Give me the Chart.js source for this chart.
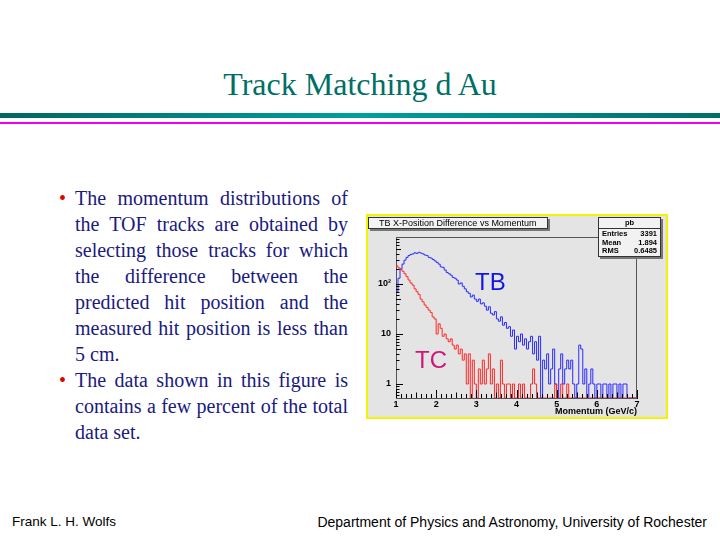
<!DOCTYPE html>
<html>
<head>
<meta charset="utf-8">
<title>Track Matching d Au</title>
<script src="https://cdn.jsdelivr.net/npm/chart.js@4.4.1/dist/chart.umd.min.js"></script>
<style>
  html, body { margin: 0; padding: 0; background: #fff; }
  body { width: 720px; height: 540px; position: relative; overflow: hidden; }
  .title { position: absolute; left: 0; top: 66px; width: 720px; text-align: center;
           font: 32px/36px "Liberation Serif", "Times New Roman", serif; color: #006f66; }
  .rule1 { position: absolute; left: 0; top: 113px; width: 720px; height: 5px;
           background: linear-gradient(to right, #006660, #00a09c 50%, #006e68); }
  .rule2 { position: absolute; left: 0; top: 122px; width: 720px; height: 2px; background: #f000f0; }
  .bullets { position: absolute; left: 75px; top: 185px; width: 273px;
             font: 20px/26px "Liberation Serif", "Times New Roman", serif; color: #1a1a80; }
  .bullets .l { text-align: justify; text-align-last: justify; }
  .bullets .e { text-align: left; text-align-last: left; }
  .bullets .b { position: absolute; left: -16px; color: #e00000; }
  .foot { position: absolute; top: 514px; font: 13.5px/16px "Liberation Sans", Arial, sans-serif; color: #000; }
  #pad { position: absolute; left: 366px; top: 214px; width: 298px; height: 201px;
         border: 2px solid #f4f400; background: #e4e4e4; }
  #pad canvas { position: absolute; left: 0; top: 0; }
  .htitle { position: absolute; left: 0; top: 1px; width: 180px; height: 12px; box-sizing: border-box;
            border: 1px solid #333; background: #f2f2f2; box-shadow: 2px 2px 0 #777; white-space: nowrap;
            font: 9px/10px "Liberation Sans", Arial, sans-serif; color: #000; padding-left: 10px; }
  .stats { position: absolute; left: 230px; top: 1px; width: 63px; height: 40px; box-sizing: border-box;
           border: 1px solid #333; background: #f2f2f2; box-shadow: 2px 2px 0 #777;
           font: bold 7.5px/8px "Liberation Sans", Arial, sans-serif; color: #000; }
  .stats .h { text-align: center; border-bottom: 1px solid #333; height: 10px; line-height: 10px; }
  .stats .r { display: flex; justify-content: space-between; padding: 0 3px 0 3px; height: 8.5px; line-height: 9px; }
  .lbl { position: absolute; font: 24px/24px "Liberation Sans", Arial, sans-serif; }
</style>
</head>
<body>
<div class="title">Track Matching d Au</div>
<div class="rule1"></div>
<div class="rule2"></div>

<div class="bullets">
  <div class="l"><span class="b">•</span>The momentum distributions of</div>
  <div class="l">the TOF tracks are obtained by</div>
  <div class="l">selecting those tracks for which</div>
  <div class="l">the difference between the</div>
  <div class="l">predicted hit position and the</div>
  <div class="l">measured hit position is less than</div>
  <div class="e">5 cm.</div>
  <div class="l"><span class="b">•</span>The data shown in this figure is</div>
  <div class="l">contains a few percent of the total</div>
  <div class="e">data set.</div>
</div>

<div id="pad">
  <canvas id="chartHisto" width="298" height="201"></canvas>
  <div class="htitle">TB X-Position Difference vs Momentum</div>
  <div class="stats" id="stats"></div>
  <div class="lbl" style="left:107px; top:54px; color:#1414e6;">TB</div>
  <div class="lbl" style="left:47px; top:132px; color:#d0157a;">TC</div>
</div>

<div class="foot" style="left:12px;">Frank L. H. Wolfs</div>
<div class="foot" style="right:13px; font-size:14px;">Department of Physics and Astronomy, University of Rochester</div>

<script>
// histogram bins: 0.05 GeV/c wide, starting at 1.0 GeV/c
const binStart = 1.0;
const binWidth = 0.05;

// TB counts per bin (1.00 ... 6.95)
const tbCounts = [
  70, 130, 200, 250, 300, 340, 370, 390, 400, 420,
  410, 430, 415, 400, 380, 370, 340, 330, 310, 290,
  270, 250, 220, 215, 190, 170, 160, 150, 135, 130,
  120, 100, 105, 90, 80, 70, 65, 55, 60, 50,
  45, 50, 40, 42, 36, 30, 35, 26, 24, 28,
  20, 18, 22, 15, 17, 13, 14, 9, 12, 5,
  9, 7, 10, 6, 8, 5, 7, 9, 4, 7,
  3, 9, 0, 3, 2, 4, 1, 2, 5, 1,
  0, 2, 4, 1, 2, 3, 2, 3, 1, 0,
  1, 6, 5, 1, 2, 0, 1, 2, 1, 0,
  1, 1, 0, 1, 1, 0, 1, 0, 1, 1,
  0, 1, 0, 1, 1, 0, 0, 0, 0, 0
];

// TC counts per bin (1.00 ... 6.95)
const tcCounts = [
  230, 210, 195, 180, 160, 140, 120, 105, 95, 80,
  70, 62, 50, 44, 38, 34, 30, 27, 22, 20,
  10, 16, 13, 9, 10, 8, 7, 8, 6, 5,
  6, 4, 5, 3, 4, 1, 4, 0, 3, 1,
  0, 2, 1, 3, 1, 2, 4, 1, 2, 0,
  1, 0, 3, 1, 0, 1, 1, 0, 1, 0,
  0, 1, 0, 1, 0, 0, 0, 1, 2, 1,
  0, 0, 0, 0, 0, 0, 0, 0, 0, 1,
  0, 0, 1, 0, 0, 1, 0, 0, 0, 0,
  0, 0, 0, 0, 0, 0, 0, 0, 0, 0,
  0, 0, 0, 0, 0, 0, 0, 0, 0, 0,
  0, 0, 0, 0, 0, 0, 0, 0, 0, 0
];

const xTickValues = [1, 2, 3, 4, 5, 6, 7];
const yTickValues = [1, 10, 100];
const yTickLabels = ['1', '10', '10²'];
const yMin = 0.525;
const yMax = 870;

const statsName = 'pb';
const statsLabels = ['Entries', 'Mean', 'RMS'];
const statsValues = ['3391', '1.894', '0.6485'];

// stats box
const statsDiv = document.getElementById('stats');
statsDiv.innerHTML = `<div class="h">${statsName}</div>` +
  statsLabels.map((l, i) => `<div class="r"><span>${l}</span><span>${statsValues[i]}</span></div>`).join('');

// bin left edges + closing edge, for a stepped line.
// empty bins sit on the axis floor (log scale can't show 0)
function toSteps(counts) {
  const pts = counts.map((c, i) => ({ x: +(binStart + i * binWidth).toFixed(3), y: c > 0 ? c : yMin }));
  pts.push({ x: +(binStart + counts.length * binWidth).toFixed(3), y: yMin });
  return pts;
}

const axisFont = { family: '"Liberation Sans", Arial, sans-serif', size: 9, weight: 'bold' };

// ROOT style frame + inside ticks
const rootFrame = {
  id: 'rootFrame',
  beforeDatasetsDraw(chart) {
    const { ctx, chartArea: a } = chart;
    ctx.save();
    ctx.strokeStyle = '#555';
    ctx.lineWidth = 1;
    ctx.strokeRect(a.left + 0.5, a.top + 0.5, a.right - a.left - 1, a.bottom - a.top);
    ctx.restore();
  },
  afterDatasetsDraw(chart) {
    const { ctx, chartArea: a, scales: { x, y } } = chart;
    ctx.save();
    ctx.strokeStyle = '#000';
    ctx.lineWidth = 1;
    ctx.beginPath();
    for (let d = 0.1; d <= 1000; d *= 10) {
      for (let m = 1; m < 10; m++) {
        const v = m * d;
        if (v < y.min || v > y.max) continue;
        const py = Math.round(y.getPixelForValue(v)) + 0.5;
        const len = m === 1 ? 7 : (m === 5 ? 5 : 3.5);
        ctx.moveTo(a.left, py);
        ctx.lineTo(a.left + len, py);
      }
    }
    for (let i = 0; i <= 48; i++) {
      const t = 1 + i * 0.125;
      const px = Math.round(x.getPixelForValue(t)) + 0.5;
      const len = i % 8 === 0 ? 8 : (i % 4 === 0 ? 5.5 : 4);
      ctx.moveTo(px, a.bottom);
      ctx.lineTo(px, a.bottom - len);
    }
    ctx.stroke();
    ctx.restore();
  }
};

new Chart(document.getElementById('chartHisto'), {
  type: 'line',
  data: {
    datasets: [
      { label: 'TC', data: toSteps(tcCounts), borderColor: '#ff2a2a', borderWidth: 1,
        pointRadius: 0, stepped: 'before', fill: false },
      { label: 'TB', data: toSteps(tbCounts), borderColor: '#2b2bff', borderWidth: 1,
        pointRadius: 0, stepped: 'before', fill: false }
    ]
  },
  options: {
    responsive: false,
    animation: false,
    layout: { padding: { top: 21, right: 29, left: 0, bottom: 0 } },
    plugins: { legend: { display: false }, tooltip: { enabled: false }, title: { display: false } },
    scales: {
      x: {
        type: 'linear', min: 1, max: 7, bounds: 'data',
        afterBuildTicks: s => { s.ticks = xTickValues.map(v => ({ value: v })); },
        afterFit: s => { s.height = 19; },
        grid: { display: false, drawTicks: false },
        border: { display: true, color: '#000', width: 1 },
        ticks: { font: axisFont, color: '#000', padding: 1, maxRotation: 0, autoSkip: false },
        title: { display: true, text: 'Momentum (GeV/c)', align: 'end', font: axisFont,
                 color: '#000', padding: { top: 0, bottom: 0 } }
      },
      y: {
        type: 'logarithmic', min: yMin, max: yMax, bounds: 'data',
        afterBuildTicks: s => { s.ticks = yTickValues.map(v => ({ value: v })); },
        afterFit: s => { s.width = 28; },
        grid: { display: false, drawTicks: false },
        border: { display: true, color: '#000', width: 1 },
        ticks: { font: axisFont, color: '#000', padding: 5, autoSkip: false,
                 callback: (v, i) => yTickLabels[i] }
      }
    }
  },
  plugins: [rootFrame]
});
</script>
</body>
</html>
